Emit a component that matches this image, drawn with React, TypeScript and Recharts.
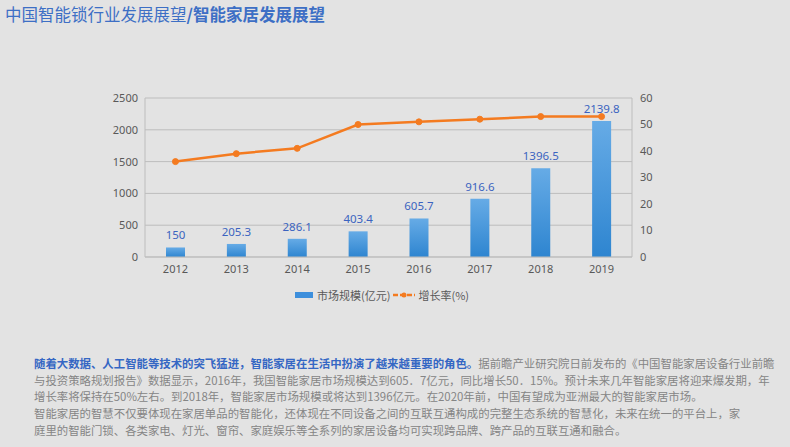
import { ComposedChart, Bar, Line, XAxis, YAxis, CartesianGrid, LabelList } from 'recharts';

const years = ['2012', '2013', '2014', '2015', '2016', '2017', '2018', '2019'];
const marketSize = [150, 205.3, 286.1, 403.4, 605.7, 916.6, 1396.5, 2139.8];
const growthRate = [36, 39, 41, 50, 51, 52, 53, 53];
const leftTicks = [0, 500, 1000, 1500, 2000, 2500];
const rightTicks = [0, 10, 20, 30, 40, 50, 60];

const data = years.map((year, i) => ({ year, size: marketSize[i], rate: growthRate[i] }));

const FONT = '"Noto Sans", "Noto Sans CJK SC", sans-serif';
const CJK = '"Noto Sans CJK SC", "Noto Sans", sans-serif';

const bodyLines = [
  '与投资策略规划报告》数据显示，2016年，我国智能家居市场规模达到605．7亿元，同比增长50．15%。预计未来几年智能家居将迎来爆发期，年',
  '增长率将保持在50%左右。到2018年，智能家居市场规模或将达到1396亿元。在2020年前，中国有望成为亚洲最大的智能家居市场。',
  '智能家居的智慧不仅要体现在家居单品的智能化，还体现在不同设备之间的互联互通构成的完整生态系统的智慧化，未来在统一的平台上，家',
  '庭里的智能门锁、各类家电、灯光、窗帘、家庭娱乐等全系列的家居设备均可实现跨品牌、跨产品的互联互通和融合。',
];

export default function App() {
  return (
    <div
      style={{
        position: 'fixed',
        left: 0,
        top: 0,
        width: 790,
        height: 447,
        background: '#e3e3e3',
        overflow: 'hidden',
        fontFamily: CJK,
      }}
    >
      <div style={{ position: 'absolute', left: 5, top: 2, fontSize: 16.5, color: '#3d6fc5', whiteSpace: 'nowrap' }}>
        中国智能锁行业发展展望<b>/智能家居发展展望</b>
      </div>

      <div style={{ position: 'absolute', left: 0, top: 0 }}>
        <ComposedChart width={790} height={290} data={data} margin={{ top: 98, right: 118, bottom: 8, left: 105 }}>
          <defs>
            <linearGradient id="barFill" x1="0" y1="0" x2="0" y2="1">
              <stop offset="0%" stopColor="#66abe6" />
              <stop offset="100%" stopColor="#2e85d0" />
            </linearGradient>
          </defs>
          <CartesianGrid vertical={false} stroke="#bdbdbd" yAxisId="left" />
          <XAxis
            dataKey="year"
            height={25}
            tickLine={false}
            tickSize={0}
            tickMargin={8}
            axisLine={{ stroke: '#bdbdbd' }}
            tick={{ fill: '#595959', fontSize: 11, fontFamily: FONT }}
          />
          <YAxis
            yAxisId="left"
            width={40}
            domain={[0, 2500]}
            ticks={leftTicks}
            tickLine={false}
            tickSize={0}
            tickMargin={7}
            axisLine={{ stroke: '#bdbdbd' }}
            tick={{ fill: '#595959', fontSize: 11, fontFamily: FONT }}
          />
          <YAxis
            yAxisId="right"
            orientation="right"
            width={40}
            domain={[0, 60]}
            ticks={rightTicks}
            tickLine={false}
            tickSize={0}
            tickMargin={8}
            axisLine={{ stroke: '#bdbdbd' }}
            tick={{ fill: '#595959', fontSize: 11, fontFamily: FONT }}
          />
          <Bar yAxisId="left" dataKey="size" barSize={19} fill="url(#barFill)" isAnimationActive={false}>
            <LabelList dataKey="size" position="top" offset={8} fill="#3b63c0" fontSize={11.5} fontFamily={FONT} />
          </Bar>
          <Line
            yAxisId="right"
            dataKey="rate"
            type="linear"
            stroke="#f47b20"
            strokeWidth={2.5}
            dot={{ r: 3, fill: '#f47b20', stroke: '#f47b20', strokeWidth: 1 }}
            isAnimationActive={false}
          />
        </ComposedChart>
      </div>

      <div
        style={{
          position: 'absolute',
          left: 0,
          top: 287,
          width: 764,
          display: 'flex',
          justifyContent: 'center',
          alignItems: 'center',
          fontSize: 11,
          color: '#595959',
        }}
      >
        <span style={{ display: 'inline-block', width: 18, height: 6, background: '#3d8fdc', marginRight: 4 }} />
        <span>市场规模(亿元)</span>
        <svg width={22} height={10} style={{ margin: '0 3px 0 3px' }}>
          <line x1={0} y1={5} x2={22} y2={5} stroke="#f47b20" strokeWidth={2.5} strokeDasharray="5 2" />
          <circle cx={11} cy={5} r={2.5} fill="#f47b20" />
        </svg>
        <span>增长率(%)</span>
      </div>

      <div style={{ position: 'absolute', left: 34, top: 355, fontSize: 11.4, lineHeight: '16.7px', color: '#858585', whiteSpace: 'nowrap' }}>
        <div>
          <b style={{ color: '#3567c4' }}>随着大数据、人工智能等技术的突飞猛进，智能家居在生活中扮演了越来越重要的角色。</b>
          据前瞻产业研究院日前发布的《中国智能家居设备行业前瞻
        </div>
        {bodyLines.map((t) => (
          <div key={t}>{t}</div>
        ))}
      </div>
    </div>
  );
}
